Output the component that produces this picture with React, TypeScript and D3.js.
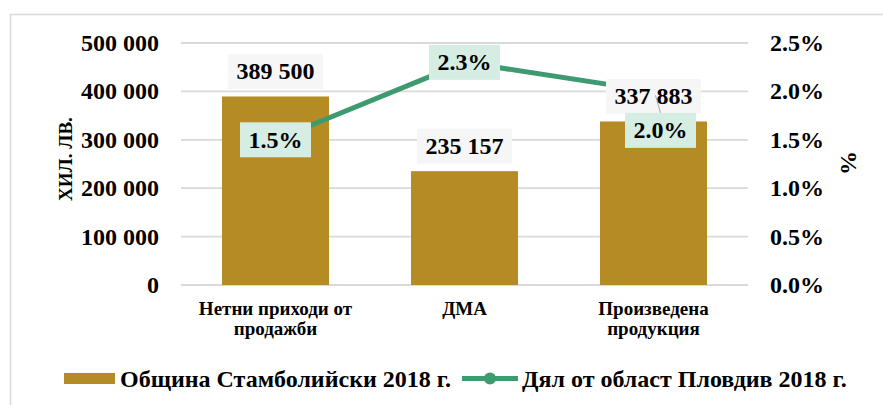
import React from "react";
import * as d3 from "d3";

const categories = ["Нетни приходи от продажби", "ДМА", "Произведена продукция"];
const categoryLines = [["Нетни приходи от", "продажби"], ["ДМА"], ["Произведена", "продукция"]];
const barValues = [389500, 235157, 337883];
const shareValues = [0.015, 0.023, 0.02];
const leftTicks = [0, 100000, 200000, 300000, 400000, 500000];
const rightTicks = [0, 0.005, 0.01, 0.015, 0.02, 0.025];
const seriesNames = ["Община Стамболийски 2018 г.", "Дял от област Пловдив 2018 г."];
const leftTitle = "ХИЛ. ЛВ.";
const rightTitle = "%";

const FONT = "Liberation Serif, Tinos, Times New Roman, DejaVu Serif, serif";
const BAR = "#b58c23";
const LINE = "#3d9a71";
const PCT_BG = "#d5ede2";
const LBL_BG = "#f6f6f6";
const GRID = "#d9d9d9";

const fmtNum = (v: number) => d3.format(",")(v).replace(/,/g, " ");
const fmtPct = d3.format(".1%");

export default function App() {
  const W = 883, H = 405;
  const left = 181, right = 748, top = 43, bottom = 285;
  const x = d3.scaleBand<string>().domain(categories).range([left, right]).paddingInner(0.434).paddingOuter(0.217);
  const y = d3.scaleLinear().domain([0, 500000]).range([bottom, top]);
  const y2 = d3.scaleLinear().domain([0, 0.025]).range([bottom, top]);
  const cx = (c: string) => (x(c) as number) + x.bandwidth() / 2;
  const linePts: [number, number][] = categories.map((c, i) => [cx(c), y2(shareValues[i])]);
  const lineGen = d3.line();
  const pctOffsets = [[0, 0], [0, 0], [7, 39]];

  return (
    <svg width={W} height={H} style={{ position: "absolute", left: 0, top: 0, background: "#fff", fontFamily: FONT, fontWeight: 700 }}>
      <rect x={10.5} y={14.5} width={900} height={420} fill="#fff" stroke={GRID} strokeWidth={1.5} />
      {leftTicks.map((t) => (
        <line key={t} x1={left} x2={right} y1={y(t)} y2={y(t)} stroke={GRID} strokeWidth={1.8} />
      ))}
      {leftTicks.map((t) => (
        <text key={"l" + t} x={159} y={y(t)} dy="0.33em" textAnchor="end" fontSize={24}>{fmtNum(t)}</text>
      ))}
      {rightTicks.map((t) => (
        <text key={"r" + t} x={770} y={y2(t)} dy="0.33em" textAnchor="start" fontSize={24}>{fmtPct(t)}</text>
      ))}
      <text transform={`translate(72,159) rotate(-90)`} textAnchor="middle" fontSize={19}>{leftTitle}</text>
      <text transform={`translate(856,163) rotate(-90)`} textAnchor="middle" fontSize={24}>{rightTitle}</text>
      {categories.map((c, i) => (
        <rect key={c} x={x(c)} y={y(barValues[i])} width={x.bandwidth()} height={bottom - y(barValues[i])} fill={BAR} />
      ))}
      {categories.map((c, i) => (
        <text key={"c" + c} textAnchor="middle" fontSize={19}>
          {categoryLines[i].map((ln, j) => (
            <tspan key={j} x={cx(c)} y={315 + j * 20}>{ln}</tspan>
          ))}
        </text>
      ))}
      <path d={lineGen(linePts) || ""} fill="none" stroke={LINE} strokeWidth={5} strokeLinejoin="round" />
      {categories.map((c, i) => {
        const by = y(barValues[i]) - 25;
        return (
          <g key={"bl" + c}>
            <rect x={cx(c) - 47.5} y={by - 17.5} width={95} height={35} fill={LBL_BG} />
            <text x={cx(c)} y={by} dy="0.33em" textAnchor="middle" fontSize={24}>{fmtNum(barValues[i])}</text>
          </g>
        );
      })}
      {categories.map((c, i) => {
        const [ox, oy] = pctOffsets[i];
        const px = linePts[i][0], py = linePts[i][1];
        const lx = px + ox, ly = py + oy;
        return (
          <g key={"pl" + c}>
            {oy !== 0 && <line x1={px + 2} y1={py + 4} x2={lx} y2={ly - 17.5} stroke="#a6a6a6" strokeWidth={1} />}
            <rect x={lx - 35.5} y={ly - 17.5} width={71} height={35} fill={PCT_BG} />
            <text x={lx} y={ly} dy="0.33em" textAnchor="middle" fontSize={24}>{fmtPct(shareValues[i])}</text>
          </g>
        );
      })}
      <rect x={64} y={373} width={51} height={11} fill={BAR} />
      <text x={120} y={387} fontSize={24}>{seriesNames[0]}</text>
      <line x1={462} x2={518} y1={378.5} y2={378.5} stroke={LINE} strokeWidth={5} />
      <circle cx={490} cy={378.5} r={6} fill={LINE} />
      <text x={522} y={387} fontSize={24}>{seriesNames[1]}</text>
    </svg>
  );
}
